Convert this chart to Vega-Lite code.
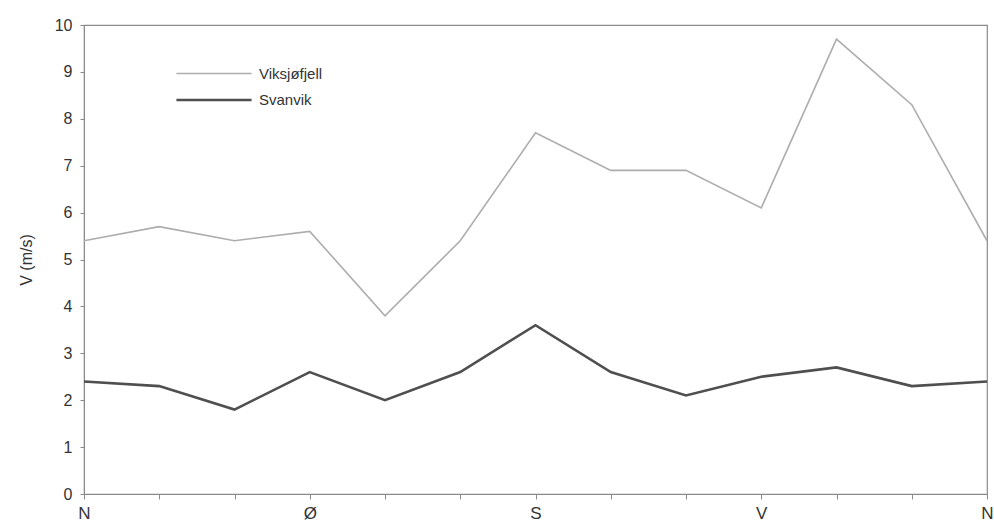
{
  "$schema": "https://vega.github.io/schema/vega-lite/v6.json",
  "width": 903,
  "height": 469,
  "autosize": {"type": "none"},
  "padding": {"left": 84, "top": 25, "right": 7, "bottom": 35},
  "background": "white",
  "config": {
    "view": {"stroke": "#8a8a8a", "strokeWidth": 1.2},
    "font": "Liberation Sans",
    "axis": {
      "domainColor": "#8a8a8a",
      "tickColor": "#8a8a8a",
      "labelColor": "#333333",
      "labelFont": "Liberation Sans",
      "labelFontSize": 16,
      "titleFont": "Liberation Sans",
      "titleFontWeight": "normal",
      "titleColor": "#333333",
      "grid": false
    }
  },
  "data": {
    "values": [
      {"dir": 0, "series": "Viksjøfjell", "v": 5.4},
      {"dir": 1, "series": "Viksjøfjell", "v": 5.7},
      {"dir": 2, "series": "Viksjøfjell", "v": 5.4},
      {"dir": 3, "series": "Viksjøfjell", "v": 5.6},
      {"dir": 4, "series": "Viksjøfjell", "v": 3.8},
      {"dir": 5, "series": "Viksjøfjell", "v": 5.4},
      {"dir": 6, "series": "Viksjøfjell", "v": 7.7},
      {"dir": 7, "series": "Viksjøfjell", "v": 6.9},
      {"dir": 8, "series": "Viksjøfjell", "v": 6.9},
      {"dir": 9, "series": "Viksjøfjell", "v": 6.1},
      {"dir": 10, "series": "Viksjøfjell", "v": 9.7},
      {"dir": 11, "series": "Viksjøfjell", "v": 8.3},
      {"dir": 12, "series": "Viksjøfjell", "v": 5.4},
      {"dir": 0, "series": "Svanvik", "v": 2.4},
      {"dir": 1, "series": "Svanvik", "v": 2.3},
      {"dir": 2, "series": "Svanvik", "v": 1.8},
      {"dir": 3, "series": "Svanvik", "v": 2.6},
      {"dir": 4, "series": "Svanvik", "v": 2.0},
      {"dir": 5, "series": "Svanvik", "v": 2.6},
      {"dir": 6, "series": "Svanvik", "v": 3.6},
      {"dir": 7, "series": "Svanvik", "v": 2.6},
      {"dir": 8, "series": "Svanvik", "v": 2.1},
      {"dir": 9, "series": "Svanvik", "v": 2.5},
      {"dir": 10, "series": "Svanvik", "v": 2.7},
      {"dir": 11, "series": "Svanvik", "v": 2.3},
      {"dir": 12, "series": "Svanvik", "v": 2.4}
    ]
  },
  "mark": {"type": "line", "strokeJoin": "miter"},
  "encoding": {
    "x": {
      "field": "dir",
      "type": "quantitative",
      "scale": {"domain": [0, 12], "nice": false, "zero": false},
      "axis": {
        "title": null,
        "values": [0, 1, 2, 3, 4, 5, 6, 7, 8, 9, 10, 11, 12],
        "labelExpr": "datum.value == 0 || datum.value == 12 ? 'N' : datum.value == 3 ? 'Ø' : datum.value == 6 ? 'S' : datum.value == 9 ? 'V' : ''",
        "labelFontSize": 17,
        "labelPadding": 6,
        "tickSize": 5,
        "labelFlush": false,
        "labelOverlap": false
      }
    },
    "y": {
      "field": "v",
      "type": "quantitative",
      "scale": {"domain": [0, 10], "nice": false},
      "axis": {
        "title": "V (m/s)",
        "values": [0, 1, 2, 3, 4, 5, 6, 7, 8, 9, 10],
        "tickSize": 4,
        "labelPadding": 8,
        "titleFontSize": 16,
        "titlePadding": 20
      }
    },
    "color": {
      "field": "series",
      "type": "nominal",
      "scale": {"domain": ["Viksjøfjell", "Svanvik"], "range": ["#adadad", "#4f4f4f"]},
      "legend": {
        "title": null,
        "orient": "none",
        "legendX": 119,
        "legendY": 38,
        "padding": 0,
        "symbolType": "M-4,0H4",
        "symbolSize": 353,
        "symbolStrokeWidth": 1.8,
        "labelOffset": 34,
        "labelFontSize": 15,
        "labelColor": "#333333",
        "labelFont": "Liberation Sans",
        "rowPadding": 7
      }
    },
    "strokeWidth": {
      "field": "series",
      "type": "nominal",
      "scale": {"domain": ["Viksjøfjell", "Svanvik"], "range": [1.6, 2.6]},
      "legend": null
    }
  }
}
